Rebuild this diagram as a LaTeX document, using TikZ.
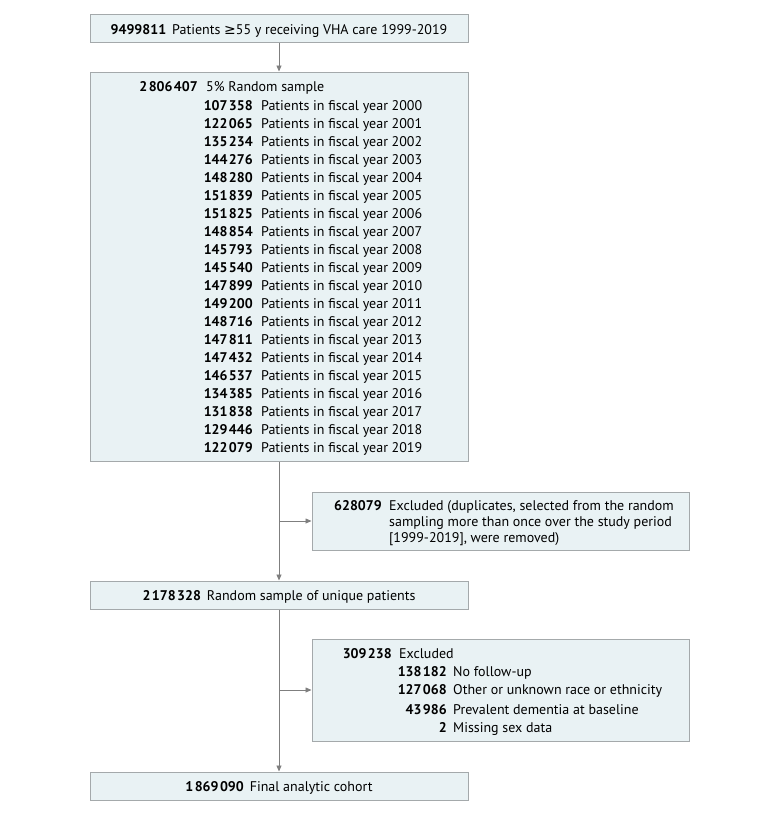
\documentclass[tikz,border=0pt]{standalone}
\usepackage{fontspec}
\setmainfont{PT Sans}
\newfontfamily\symfont{DejaVu Sans}
\usetikzlibrary{arrows.meta,positioning}
\definecolor{boxfill}{HTML}{E9F2F4}
\definecolor{boxline}{HTML}{A4A9AB}
\definecolor{arrgray}{HTML}{7F7F7F}
\newcommand{\gsp}{\kern1.4pt}
\tikzset{
  box/.style={draw=boxline, fill=boxfill, line width=1pt, inner sep=0pt},
  txt/.style={inner sep=0pt, font=\fontsize{14}{16}\selectfont},
  num/.style={inner sep=0pt, anchor=base east, font=\fontsize{14}{16}\selectfont\bfseries},
  lbl/.style={txt, anchor=base west},
  arr/.style={draw=arrgray, line width=0.8pt, -{Triangle[length=6pt,width=5pt]}},
}
\begin{document}
\begin{tikzpicture}[x=1pt,y=-1pt]
        \useasboundingbox (0,0) rectangle (780,814);
        %main column
        \node[box, minimum width=378pt, minimum height=28pt] (top) at (279,28) {};
        \node[box, minimum width=378pt, minimum height=389pt] (sample) at (279,266.5) {};
        \node[box, minimum width=378pt, minimum height=28pt] (unique) at (279,595) {};
        \node[box, minimum width=378pt, minimum height=28pt] (final) at (279,786) {};
        %exclusions
        \node[box, minimum width=377pt, minimum height=58pt] (excl1) at (500.5,521) {};
        \node[box, minimum width=377pt, minimum height=102pt] (excl2) at (500.5,690) {};

        \node[txt, anchor=base] (toptext) at (279,34) {\textbf{9499811}\hspace{6pt}Patients {\symfont ≥}55 y receiving VHA care 1999-2019};

        \node[num] (sampnum) at (198,91) {2\gsp806\gsp407};
        \node[lbl] (samptext) at (206,91) {5\% Random sample};
        \foreach \n/\yr [count=\i from 0] in {107\gsp358/2000, 122\gsp065/2001, 135\gsp234/2002, 144\gsp276/2003,
            148\gsp280/2004, 151\gsp839/2005, 151\gsp825/2006, 148\gsp854/2007, 145\gsp793/2008, 145\gsp540/2009,
            147\gsp899/2010, 149\gsp200/2011, 148\gsp716/2012, 147\gsp811/2013, 147\gsp432/2014, 146\gsp537/2015,
            134\gsp385/2016, 131\gsp838/2017, 129\gsp446/2018, 122\gsp079/2019}
        {
            \node[num] (n\yr) at (253,{110+18*\i}) {\n};
            \node[lbl] (l\yr) at (261,{110+18*\i}) {Patients in fiscal year \yr};
        }

        \node[num] (ex1num) at (382,510) {628079};
        \node[lbl] (ex1a) at (389,510) {Excluded (duplicates, selected from the random};
        \node[lbl] (ex1b) at (389,526) {sampling more than once over the study period};
        \node[lbl] (ex1c) at (389,542) {[1999-2019], were removed)};

        \node[txt, anchor=base] (uniquetext) at (279,600) {\textbf{2\gsp178\gsp328}\hspace{6pt}Random sample of unique patients};

        \node[num] (ex2num) at (392,658) {309\gsp238};
        \node[lbl] (ex2text) at (399,658) {Excluded};
        \node[num] (fupnum) at (447,676) {138\gsp182};
        \node[lbl] (fuptext) at (453,676) {No follow-up};
        \node[num] (racenum) at (447,694) {127\gsp068};
        \node[lbl] (racetext) at (453,694) {Other or unknown race or ethnicity};
        \node[num] (demnum) at (447,714) {43\gsp986};
        \node[lbl] (demtext) at (453,714) {Prevalent dementia at baseline};
        \node[num] (sexnum) at (447,732) {2};
        \node[lbl] (sextext) at (453,732) {Missing sex data};

        \node[txt, anchor=base] (finaltext) at (279,791) {\textbf{1\gsp869\gsp090}\hspace{6pt}Final analytic cohort};

        %arrows
        \draw[arr] (top) -- (sample);
        \draw[arr] (sample) -- (unique);
        \draw[arr] (unique) -- (final);
        \draw[arr] (sample.south |- excl1.west) -- (excl1.west);
        \draw[arr] (unique.south |- excl2.west) -- (excl2.west);
\end{tikzpicture}
\end{document}
